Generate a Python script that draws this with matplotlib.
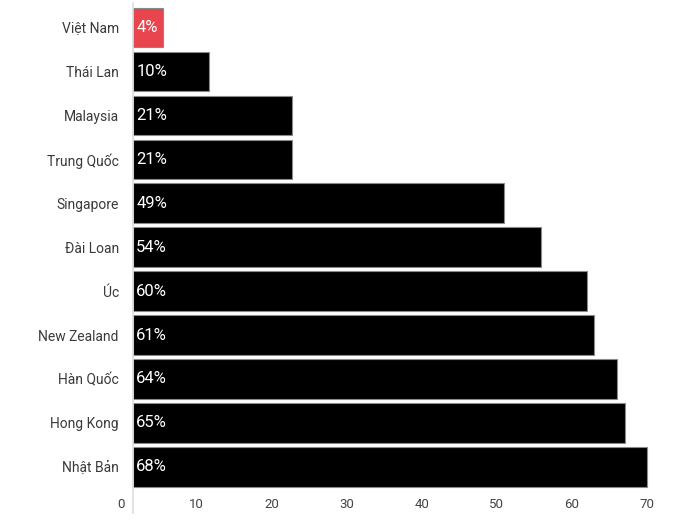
import matplotlib
matplotlib.use('Agg')
import matplotlib.pyplot as plt
import numpy as np

plt.rcParams['font.family'] = ['Roboto', 'DejaVu Sans']

# data ------------------------------------------------------------------
countries = ['Việt Nam', 'Thái Lan', 'Malaysia', 'Trung Quốc', 'Singapore',
             'Đài Loan', 'Úc', 'New Zealand', 'Hàn Quốc', 'Hong Kong', 'Nhật Bản']
pct_labels = [4, 10, 21, 21, 49, 54, 60, 61, 64, 65, 68]
# where each bar ends, read on the x axis
bar_end = [5.5, 11.65, 22.7, 22.7, 50.95, 55.9, 62.0, 62.9, 66.0, 67.07, 70.0]
x_ticks = [0, 10, 20, 30, 40, 50, 60, 70]
highlight = 'Việt Nam'

BASE = 1.49  # bars start slightly right of the 0 label

fig = plt.figure(figsize=(7, 5.2), dpi=100)
ax = fig.add_axes([121.5 / 700, 7 / 520, 555.5 / 700, 510 / 520])

y = np.arange(len(countries))
widths = np.array(bar_end) - BASE
colors = ['#e8454f' if c == highlight else 'black' for c in countries]
ax.barh(y, widths, left=BASE, height=0.9, color=colors,
        edgecolor='#8a8a8a', linewidth=0.8)

for yi, p in zip(y, pct_labels):
    ax.annotate(f'{p}%', xy=(BASE, yi), xytext=(2.5, 0), textcoords='offset points',
                ha='left', va='center', color='white', fontsize=12)

ax.set_xlim(0, 74)
ax.set_ylim(11.05, -0.558)

ax.set_yticks(y)
ax.set_yticklabels(countries)
ax.set_xticks(x_ticks)
ax.set_xticklabels([str(t) for t in x_ticks])

ax.tick_params(axis='y', length=0, pad=10, labelsize=10, labelcolor='#3a3a3a')
ax.tick_params(axis='x', length=0, pad=-10.5, labelsize=9.5, labelcolor='#444444')

for s in ['top', 'right', 'bottom']:
    ax.spines[s].set_visible(False)
ax.spines['left'].set_position(('data', BASE))
ax.spines['left'].set_color('#dddddd')
ax.spines['left'].set_linewidth(1.2)

plt.savefig('out.png', dpi=100)
